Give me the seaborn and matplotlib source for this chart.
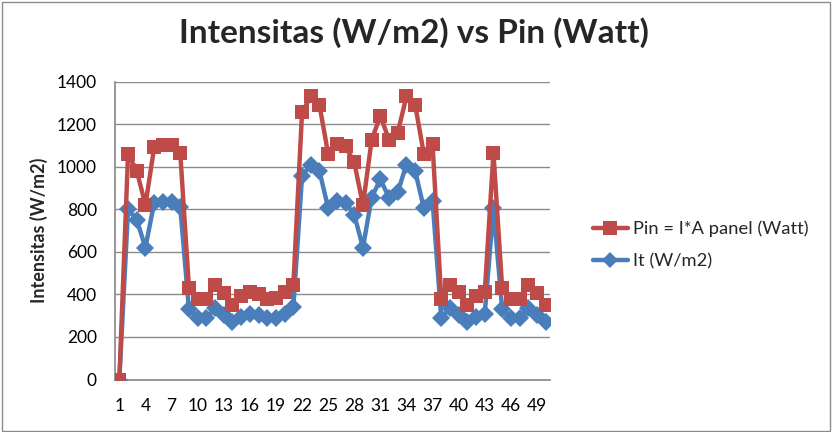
import matplotlib
matplotlib.use("Agg")
import matplotlib.pyplot as plt
import seaborn as sns
import pandas as pd
from matplotlib.patches import Rectangle
from matplotlib.lines import Line2D

x_index = list(range(1, 51))
pin_watt = [0, 1060, 980, 820, 1090, 1100, 1100, 1065, 430, 380,
            380, 445, 405, 350, 390, 410, 400, 380, 385, 410,
            445, 1255, 1330, 1290, 1060, 1105, 1095, 1020, 820, 1125,
            1240, 1125, 1160, 1330, 1290, 1060, 1105, 380, 445, 410,
            350, 390, 410, 1065, 430, 380, 380, 445, 405, 350]
it_wm2 = [0, 800, 750, 620, 830, 835, 835, 810, 330, 290,
          290, 335, 305, 270, 295, 310, 305, 290, 290, 310,
          340, 955, 1010, 980, 805, 840, 830, 775, 620, 855,
          940, 855, 880, 1010, 980, 805, 840, 290, 335, 305,
          270, 295, 310, 805, 330, 290, 290, 335, 305, 270]
xtick_labels = [1, 4, 7, 10, 13, 16, 19, 22, 25, 28, 31, 34, 37, 40, 43, 46, 49]
ytick_values = [0, 200, 400, 600, 800, 1000, 1200, 1400]

sns.set_theme(style="white")
plt.rcParams['font.family'] = ['Lato', 'DejaVu Sans']

df = pd.DataFrame({"x": x_index, "pin": pin_watt, "it": it_wm2})

fig = plt.figure(figsize=(8.32, 4.32), dpi=100)
ax = fig.add_axes([115/832, 1-379.5/432, 435/832, 298/432])

blue = "#4A7EBB"
red = "#BE4B48"
sns.lineplot(data=df, x="x", y="it", ax=ax, color=blue, lw=3.2, marker="D",
             markersize=9, markeredgewidth=0, zorder=3)
sns.lineplot(data=df, x="x", y="pin", ax=ax, color=red, lw=3.2, marker="s",
             markersize=10, markeredgewidth=0, zorder=4)

ax.set_xlim(0.5, 50.5)
ax.set_ylim(0, 1400)
ax.set_xticks(xtick_labels)
ax.set_xticklabels([str(v) for v in xtick_labels], fontsize=12.5)
ax.set_yticks(ytick_values)
ax.set_yticklabels([str(v) for v in ytick_values], fontsize=12.5)
ax.tick_params(axis="x", length=0, pad=13, colors="#000000")
ax.tick_params(axis="y", length=0, pad=13, colors="#000000")
ax.yaxis.grid(True, color="#8c8c8c", lw=1)
ax.xaxis.grid(False)
for s in ["top", "right"]:
    ax.spines[s].set_visible(False)
ax.spines["left"].set_color("#8c8c8c")
ax.spines["bottom"].set_color("#8c8c8c")
ax.set_xlabel("")
ax.set_ylabel("Intensitas (W/m2)", fontsize=13, fontweight="bold", labelpad=6)

fig.suptitle("Intensitas (W/m2) vs Pin (Watt)", x=0.498, y=0.96,
             fontsize=24, fontweight="bold")

handles = [Line2D([], [], color=red, lw=3.2, marker="s", markersize=10, markeredgewidth=0),
           Line2D([], [], color=blue, lw=3.2, marker="D", markersize=8, markeredgewidth=0)]
fig.legend(handles, ["Pin = I*A panel (Watt)", "It (W/m2)"], loc="center left",
           bbox_to_anchor=(578/832, 1-245/432), frameon=False, fontsize=13.2,
           handlelength=1.9, labelspacing=0.9, handletextpad=0.3,
           borderpad=0.3)

fig.add_artist(Rectangle((0.002, 0.003), 0.995, 0.993, transform=fig.transFigure,
                         fill=False, edgecolor="#8c8c8c", lw=1))

fig.savefig("out.png", dpi=100)
